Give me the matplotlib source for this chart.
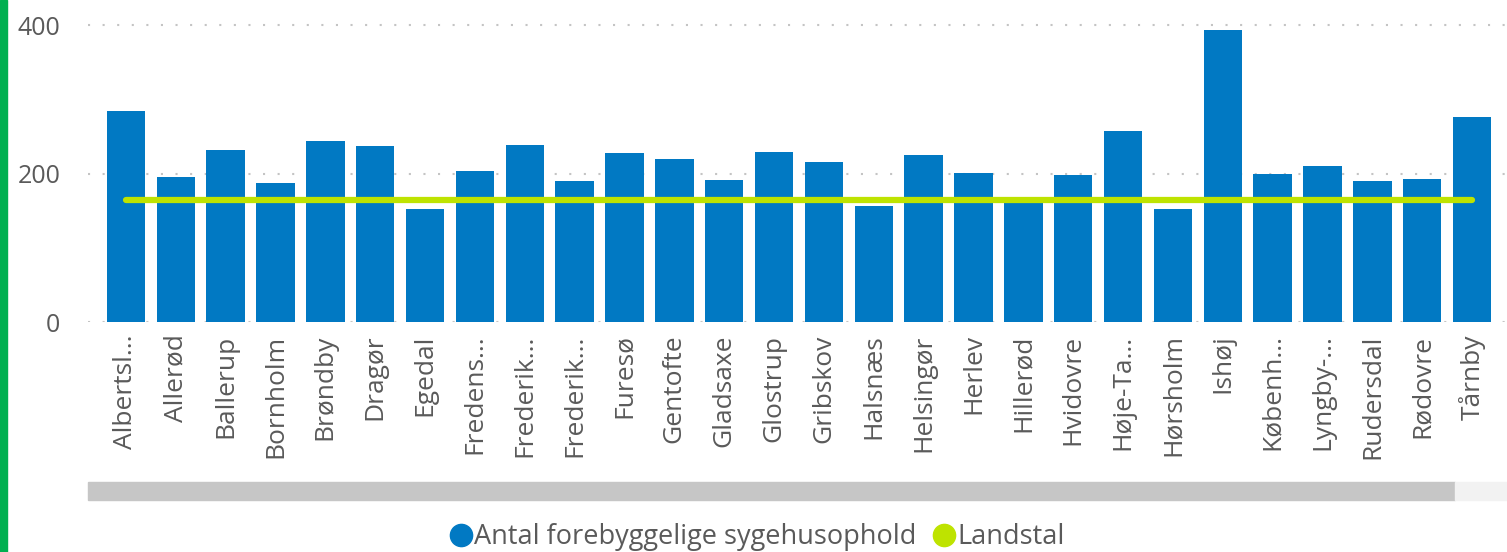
import matplotlib
matplotlib.use("Agg")
import matplotlib.pyplot as plt
from matplotlib.patches import Rectangle
from matplotlib.lines import Line2D

# -------------------
# Data
# -------------------
kommuner = [
    "Albertsl...", "Allerød", "Ballerup", "Bornholm", "Brøndby", "Dragør",
    "Egedal", "Fredens...", "Frederik...", "Frederik...", "Furesø", "Gentofte",
    "Gladsaxe", "Glostrup", "Gribskov", "Halsnæs", "Helsingør", "Herlev",
    "Hillerød", "Hvidovre", "Høje-Ta...", "Hørsholm", "Ishøj", "Københ...",
    "Lyngby-...", "Rudersdal", "Rødovre", "Tårnby",
]
antal = [
    285, 195, 232, 187, 244, 237,
    152, 204, 238, 190, 228, 220,
    192, 229, 216, 156, 225, 201,
    164, 198, 258, 152, 394, 199,
    210, 190, 193, 277,
]
landstal = [165] * len(kommuner)
y_ticks = [0, 200, 400]

bar_color = "#0179C3"
line_color = "#BEE300"
text_color = "#5a5a5a"

# -------------------
# Figure
# -------------------
plt.rcParams["font.family"] = ["Open Sans", "DejaVu Sans"]
fig = plt.figure(figsize=(15.07, 5.52), dpi=100)
ax = fig.add_axes([88 / 1507, 1 - 322 / 552, (1507 - 88) / 1507, 312 / 552])

x = list(range(len(kommuner)))
ax.bar(x, antal, width=0.77, color=bar_color, zorder=2)
ax.plot(x, landstal, color=line_color, linewidth=4.5, solid_capstyle="round", zorder=3)

ax.set_xlim(-0.76, len(kommuner) - 1 + 0.7)
ax.set_ylim(0, 420.6)

ax.set_yticks(y_ticks)
ax.set_yticklabels([str(t) for t in y_ticks], fontsize=18, color=text_color)
ax.yaxis.grid(True, linestyle=(0, (1, 6)), linewidth=1.5, color="#c4c4c4", zorder=0)
ax.set_xticks(x)
ax.set_xticklabels(kommuner, rotation=90, fontsize=19, color=text_color)
ax.tick_params(axis="x", length=0, pad=9)
ax.tick_params(axis="y", length=0, pad=20)
for s in ax.spines.values():
    s.set_visible(False)

# scrollbar + left border
fig.patches.append(Rectangle((88 / 1507, 1 - 500 / 552), (1455 - 88) / 1507, 18 / 552,
                             transform=fig.transFigure, color="#c6c6c6"))
fig.patches.append(Rectangle((1455 / 1507, 1 - 500 / 552), (1507 - 1455) / 1507, 18 / 552,
                             transform=fig.transFigure, color="#f2f2f2"))
fig.patches.append(Rectangle((0, 0), 7 / 1507, 1, transform=fig.transFigure, color="#00B050"))

# -------------------
# Legend
# -------------------
handles = [
    Line2D([], [], marker="o", linestyle="", markersize=16, color=bar_color),
    Line2D([], [], marker="o", linestyle="", markersize=16, color=line_color),
]
fig.legend(handles, ["Antal forebyggelige sygehusophold", "Landstal"],
           loc="center", bbox_to_anchor=(756 / 1507, 1 - 537 / 552), ncol=2,
           frameon=False, fontsize=19.5, labelcolor=text_color,
           handletextpad=0.0, columnspacing=0.5, handlelength=1.0)

fig.savefig("out.png", dpi=100)
